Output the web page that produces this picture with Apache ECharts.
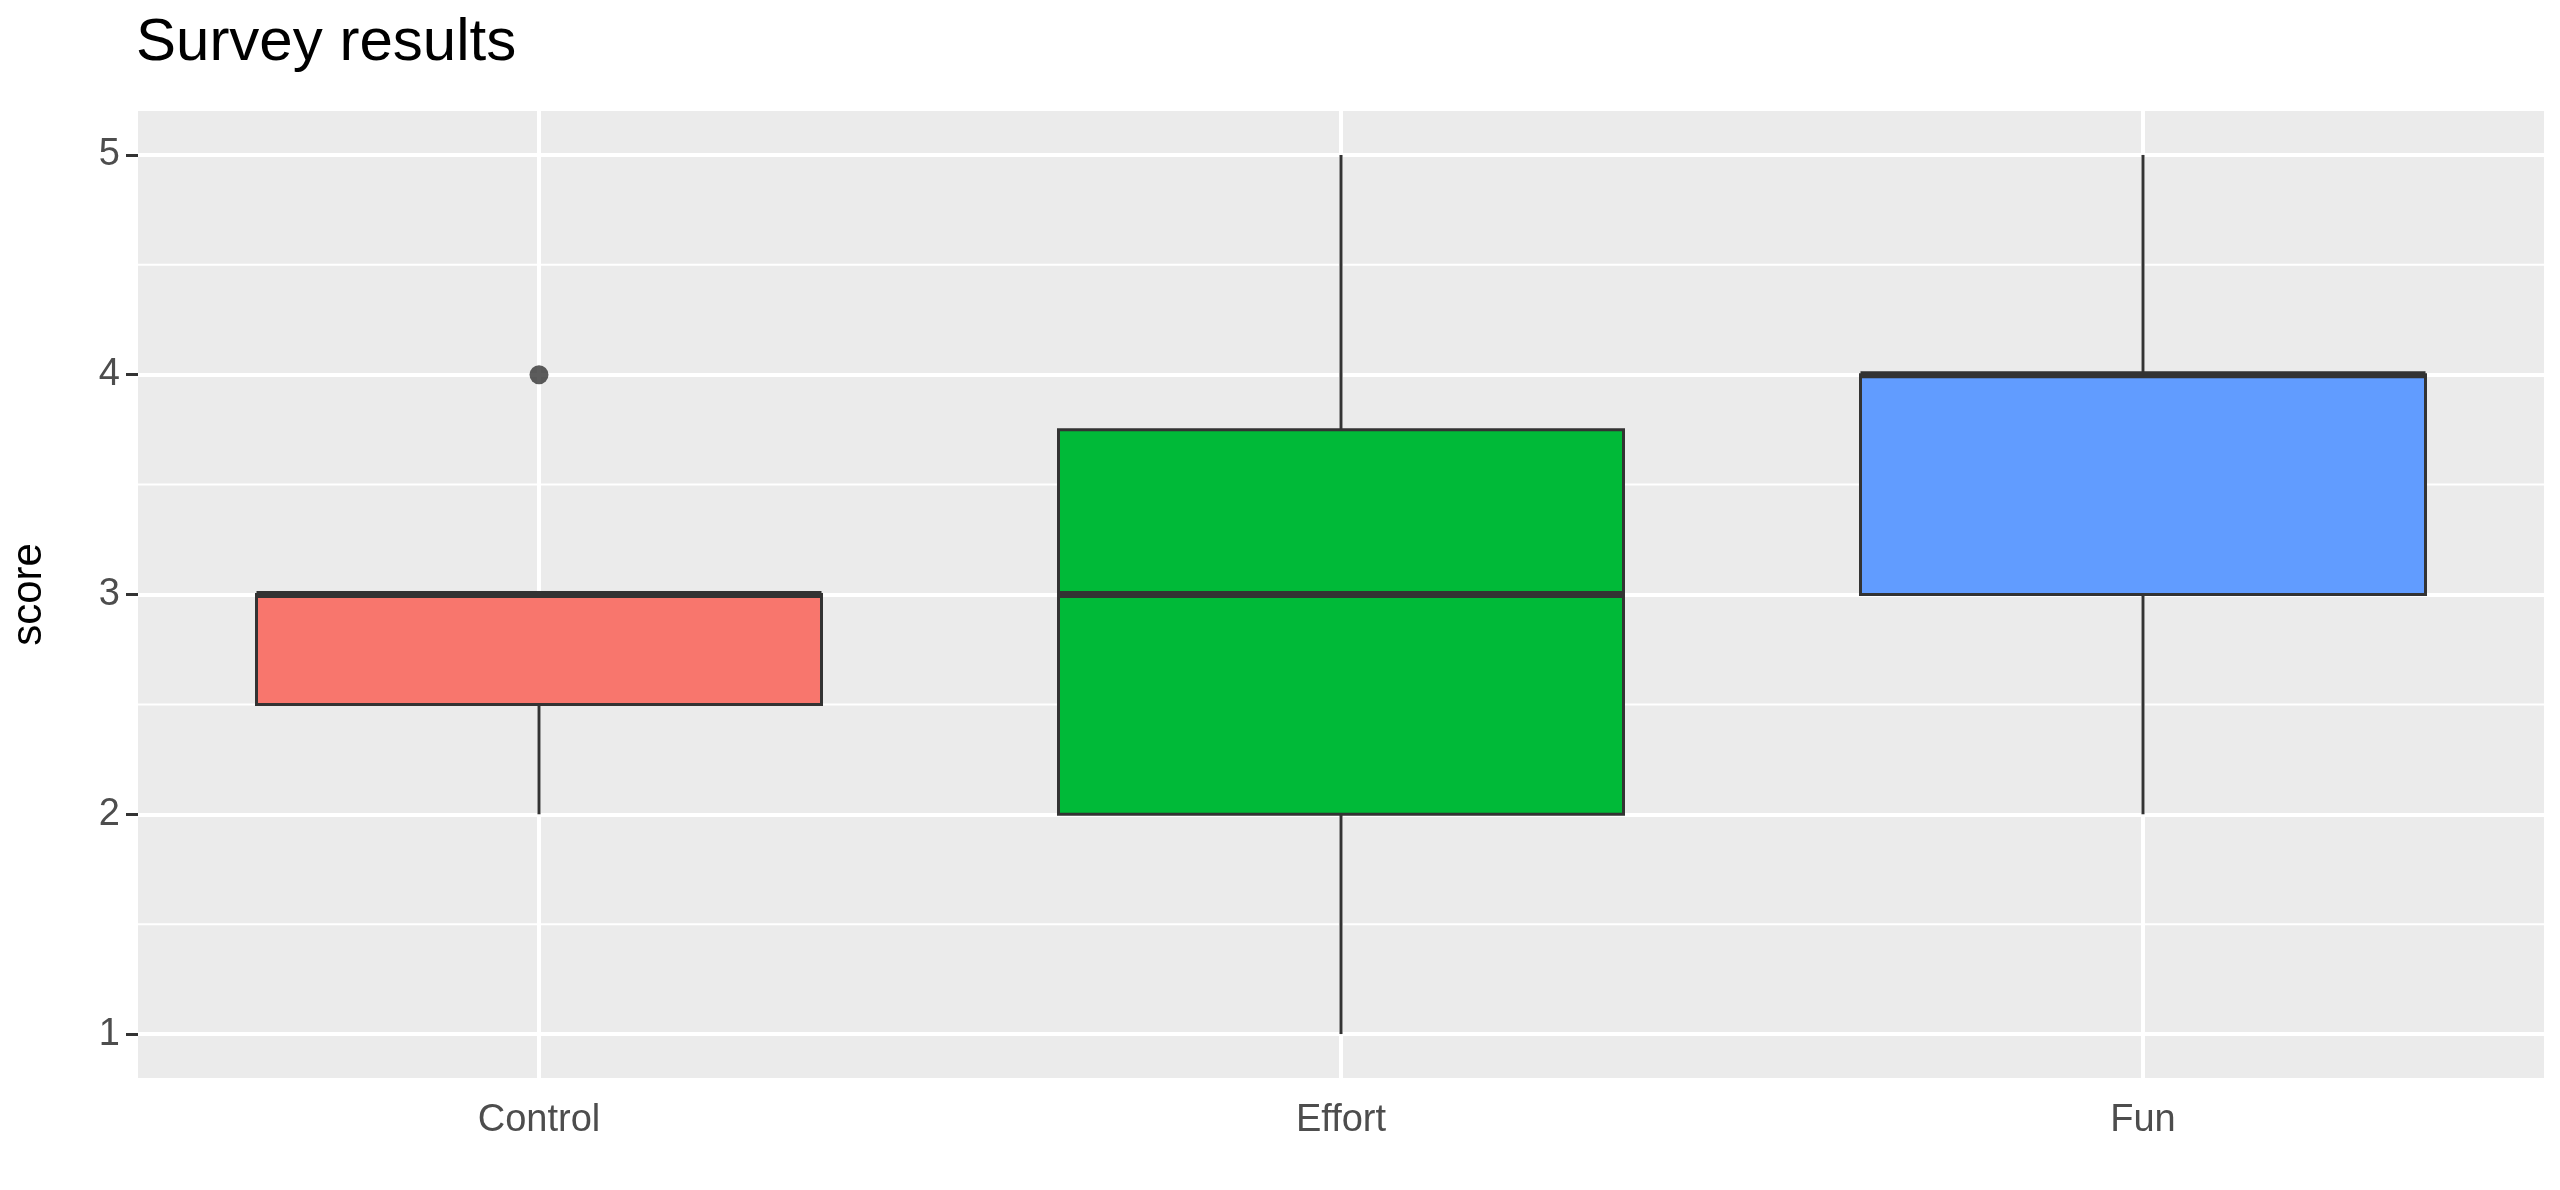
<!DOCTYPE html>
<html lang="en">
  <head>
    <meta charset="UTF-8" />
    <title>Survey results</title>
    <script src="https://cdn.jsdelivr.net/npm/echarts@6.0.0/dist/echarts.min.js"></script>
    <style>
      html, body { margin: 0; padding: 0; background: #fff; }
    </style>
  </head>
  <body>
    <div id="main" style="width: 2560px; height: 1190px"></div>
    <script type="text/javascript">
      // data
      const categories = ["Control", "Effort", "Fun"];
      const lowWhisker = [2, 1, 2];
      const q1 = [2.5, 2, 3];
      const median = [3, 3, 4];
      const q3 = [3, 3.75, 4];
      const highWhisker = [3, 5, 5];
      const boxColors = ["#F8766D", "#00BA38", "#619CFF"];
      const outliers = [["Control", 4]];
      const yTicks = [1, 2, 3, 4, 5];
      const yMinor = [1.5, 2.5, 3.5, 4.5];

      let myChart = echarts.init(document.getElementById("main"));

      const boxData = categories.map((c, i) => [i, lowWhisker[i], q1[i], median[i], q3[i], highWhisker[i]]);
      const boxW = 565;

      let options = {
        animation: false,
        title: {
          text: "Survey results",
          left: 131,
          top: 8,
          textStyle: { fontFamily: "Liberation Sans", fontSize: 60, fontWeight: "normal", color: "#000" },
        },
        grid: {
          left: 131, right: 16, top: 111, bottom: 112,
          show: true, backgroundColor: "#EBEBEB", borderWidth: 0,
        },
        xAxis: {
          type: "category",
          data: categories,
          axisLine: { show: false },
          axisTick: { alignWithLabel: true, length: 12, lineStyle: { color: "#333", width: 3 } },
          axisLabel: { fontFamily: "Liberation Sans", fontSize: 38, color: "#4D4D4D", margin: 24 },
        },
        yAxis: {
          type: "value",
          min: 0.8,
          max: 5.2,
          name: "score",
          nameLocation: "middle",
          nameGap: 88,
          nameTextStyle: { fontFamily: "Liberation Sans", fontSize: 42, color: "#000" },
          axisLine: { show: false },
          axisTick: { show: true, customValues: yTicks, length: 12, lineStyle: { color: "#333", width: 3 } },
          axisLabel: { customValues: yTicks, fontFamily: "Liberation Sans", fontSize: 38, color: "#4D4D4D", margin: 18 },
          splitLine: { show: true, lineStyle: { color: "#fff", width: 4 } },
        },
        series: [
          {
            // minor horizontal + vertical major gridlines
            type: "custom",
            silent: true,
            z: 1,
            data: [0],
            renderItem: function (params, api) {
              const cs = params.coordSys;
              const children = [];
              yMinor.forEach((v) => {
                const y = api.coord([0, v])[1];
                children.push({ type: "line", shape: { x1: cs.x, y1: y, x2: cs.x + cs.width, y2: y }, style: { stroke: "#fff", lineWidth: 2 } });
              });
              categories.forEach((c, i) => {
                const x = api.coord([i, 1])[0];
                children.push({ type: "line", shape: { x1: x, y1: cs.y, x2: x, y2: cs.y + cs.height }, style: { stroke: "#fff", lineWidth: 4 } });
              });
              return { type: "group", children: children };
            },
          },
          {
            type: "custom",
            z: 3,
            data: boxData,
            renderItem: function (params, api) {
              const i = api.value(0);
              const x = api.coord([i, 0])[0];
              const yLo = api.coord([i, api.value(1)])[1];
              const yQ1 = api.coord([i, api.value(2)])[1];
              const yMed = api.coord([i, api.value(3)])[1];
              const yQ3 = api.coord([i, api.value(4)])[1];
              const yHi = api.coord([i, api.value(5)])[1];
              const stroke = { stroke: "#333", lineWidth: 3 };
              return {
                type: "group",
                children: [
                  { type: "line", shape: { x1: x, y1: yQ1, x2: x, y2: yLo }, style: stroke },
                  { type: "line", shape: { x1: x, y1: yQ3, x2: x, y2: yHi }, style: stroke },
                  { type: "rect", shape: { x: x - boxW / 2, y: yQ3, width: boxW, height: yQ1 - yQ3 }, style: { fill: boxColors[i], stroke: "#333", lineWidth: 3 } },
                  { type: "line", shape: { x1: x - boxW / 2, y1: yMed, x2: x + boxW / 2, y2: yMed }, style: { stroke: "#333", lineWidth: 7 } },
                ],
              };
            },
          },
          {
            type: "scatter",
            z: 4,
            data: outliers,
            symbolSize: 19,
            itemStyle: { color: "#333" },
          },
        ],
      };

      myChart.setOption(options);
    </script>
  </body>
</html>
